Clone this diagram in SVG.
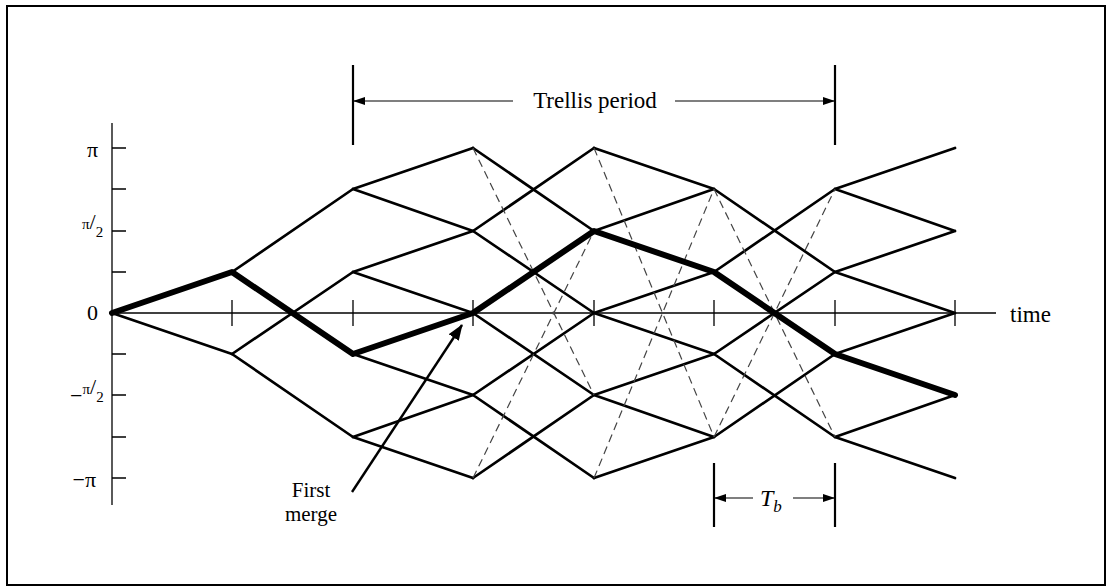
<svg xmlns="http://www.w3.org/2000/svg" width="1109" height="588" viewBox="0 0 1109 588">
<defs>
<marker id="ah" markerWidth="12" markerHeight="8" refX="11" refY="4" orient="auto" markerUnits="userSpaceOnUse">
<path d="M0,0 L12,4 L0,8 Z" fill="#000"/>
</marker>
<marker id="ahb" markerWidth="16" markerHeight="12" refX="15" refY="6" orient="auto" markerUnits="userSpaceOnUse">
<path d="M0,0 L16,6 L0,12 Z" fill="#000"/>
</marker>
</defs>
<style>
.t{font-family:"Liberation Serif","Times New Roman",serif;fill:#000}
.ax{stroke:#000;stroke-width:1.3;fill:none}
.e{stroke:#000;stroke-width:2.7;fill:none;stroke-linecap:round}
.d{stroke:#444;stroke-width:1.2;fill:none;stroke-dasharray:8 5}
.th{stroke:#000;stroke-width:6;fill:none;stroke-linecap:round;stroke-linejoin:round}
.dim{stroke:#000;stroke-width:2.2;fill:none}
.ar{stroke:#000;stroke-width:1.2;fill:none}
</style>
<rect x="7" y="6" width="1098" height="579" fill="#fff" stroke="#000" stroke-width="2"/>

<g id="axes">
<line class="ax" x1="112" y1="123" x2="112" y2="505"/>
<line class="ax" x1="112" y1="313" x2="996" y2="313"/>
<path class="ax" d="M112,148H126M112,189H126M112,231H126M112,272H126M112,354H126M112,395H126M112,437H126M112,478H126"/>
<path class="ax" d="M232,300V326M353,300V326M473,300V326M594,300V326M714,300V326M835,300V326M955,300V326"/>
</g>

<g id="y-labels">
<text class="t" x="98" y="157" font-size="22" text-anchor="end">π</text>
<text class="t" x="82" y="229" font-size="15">π<tspan font-size="22" dy="0">/</tspan><tspan font-size="15" dy="8">2</tspan></text>
<text class="t" x="98" y="320" font-size="22" text-anchor="end">0</text>
<text class="t" x="70" y="403" font-size="22">−<tspan font-size="15" dy="-9">π</tspan><tspan font-size="22" dy="0">/</tspan><tspan font-size="15" dy="8">2</tspan></text>
<text class="t" x="96" y="487" font-size="22" text-anchor="end">−π</text>
<text class="t" x="1010" y="322" font-size="23">time</text>
</g>

<g id="connectors">
<g id="solid-edges">
<path class="e" d="M112,313L232,354"/>
<path class="e" d="M232,272L353,189M232,354L353,272M232,354L353,437"/>
<path class="e" d="M353,189L473,148M353,189L473,231M353,272L473,231M353,272L473,313M353,354L473,395M353,437L473,395M353,437L473,478"/>
<path class="e" d="M473,148L594,231M473,231L594,148M473,231L594,313M473,313L594,395M473,395L594,313M473,395L594,478M473,478L594,395"/>
<path class="e" d="M594,148L714,189M594,231L714,189M594,313L714,272M594,313L714,354M594,395L714,354M594,395L714,437M594,478L714,437"/>
<path class="e" d="M714,189L835,272M714,272L835,189M714,354L835,272M714,354L835,437M714,437L835,354"/>
<path class="e" d="M835,189L955,148M835,189L955,231M835,272L955,231M835,272L955,313M835,354L955,313M835,437L955,395M835,437L955,478"/>
</g>
<g id="dashed-edges">
<path class="d" d="M473,148L594,395M473,478L594,231"/>
<path class="d" d="M594,148L714,437M594,478L714,189"/>
<path class="d" d="M714,189L835,437M714,437L835,189"/>
</g>
<path id="path-thick" class="th" d="M112,313L232,272L353,354L473,313L594,231L714,272L835,354L955,395"/>
<line id="merge-arrow" x1="352" y1="492" x2="462" y2="325" stroke="#000" stroke-width="2.4" marker-end="url(#ahb)"/>
</g>

<g id="trellis-period">
<line class="dim" x1="353" y1="65" x2="353" y2="145"/>
<line class="dim" x1="835" y1="65" x2="835" y2="145"/>
<line class="ar" x1="513" y1="101" x2="354" y2="101" marker-end="url(#ah)"/>
<line class="ar" x1="675" y1="101" x2="834" y2="101" marker-end="url(#ah)"/>
<text class="t" x="595" y="108" font-size="23" text-anchor="middle">Trellis period</text>
</g>

<g id="tb">
<line class="dim" x1="714" y1="463" x2="714" y2="527"/>
<line class="dim" x1="835" y1="463" x2="835" y2="527"/>
<line class="ar" x1="753" y1="498" x2="715" y2="498" marker-end="url(#ah)"/>
<line class="ar" x1="793" y1="498" x2="834" y2="498" marker-end="url(#ah)"/>
<text class="t" x="760" y="506" font-size="24" font-style="italic">T<tspan font-size="17" dy="6">b</tspan></text>
</g>

<g id="first-merge">
<text class="t" x="311" y="497" font-size="21" text-anchor="middle">First</text>
<text class="t" x="311" y="521" font-size="21" text-anchor="middle">merge</text>
</g>
</svg>
